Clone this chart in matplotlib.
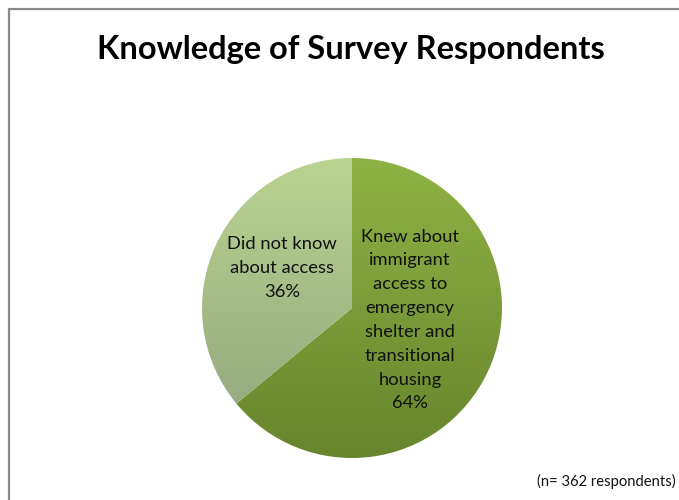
import matplotlib.pyplot as plt
import numpy as np
from matplotlib.colors import LinearSegmentedColormap

# data
labels = ["Knew about\nimmigrant\naccess to\nemergency\nshelter and\ntransitional\nhousing",
          "Did not know\nabout access"]
shares = [64, 36]
n_respondents = 362

# top/bottom shading of each slice
top_colors = ["#8fb245", "#bad491"]
bottom_colors = ["#67852c", "#8fa27c"]

plt.rcParams['font.family'] = ['Lato', 'DejaVu Sans']

fig = plt.figure(figsize=(6.79, 5), dpi=100)
ax = fig.add_axes([0, 0, 1, 1])

# frame around the chart area
ax.plot([9, 9, 690], [-10, 491, 491], color='#8a8a8a', lw=1.6, solid_capstyle='butt')

cx, cy, r = 352, 192, 150
wedges, _ = ax.pie(shares, center=(cx, cy), radius=r, startangle=90,
                   counterclock=False, frame=True,
                   wedgeprops=dict(facecolor='none', edgecolor='none'))
ax.set_xlim(0, 679)
ax.set_ylim(0, 500)
ax.set_aspect('equal')
ax.axis('off')

grad = np.linspace(0, 1, 256).reshape(-1, 1)
for w, c0, c1 in zip(wedges, top_colors, bottom_colors):
    cmap = LinearSegmentedColormap.from_list('shade', [c1, c0])
    im = ax.imshow(grad, cmap=cmap, origin='lower', aspect='auto',
                   extent=[cx - r, cx + r, cy - r, cy + r], zorder=1)
    im.set_clip_path(w)

ax.text(410, 180, f"{labels[0]}\n{shares[0]}%", ha='center', va='center',
        fontsize=13.2, linespacing=1.6, color='#111111', zorder=3)
ax.text(282, 232, f"{labels[1]}\n{shares[1]}%", ha='center', va='center',
        fontsize=13.2, linespacing=1.6, color='#111111', zorder=3)

ax.text(351, 451, "Knowledge of Survey Respondents", ha='center', va='center',
        fontsize=23.5, fontweight='bold', color='black')
ax.text(676, 19, f"(n= {n_respondents} respondents)", ha='right', va='center',
        fontsize=10.6, color='#111111')

fig.savefig('out.png', dpi=100)
